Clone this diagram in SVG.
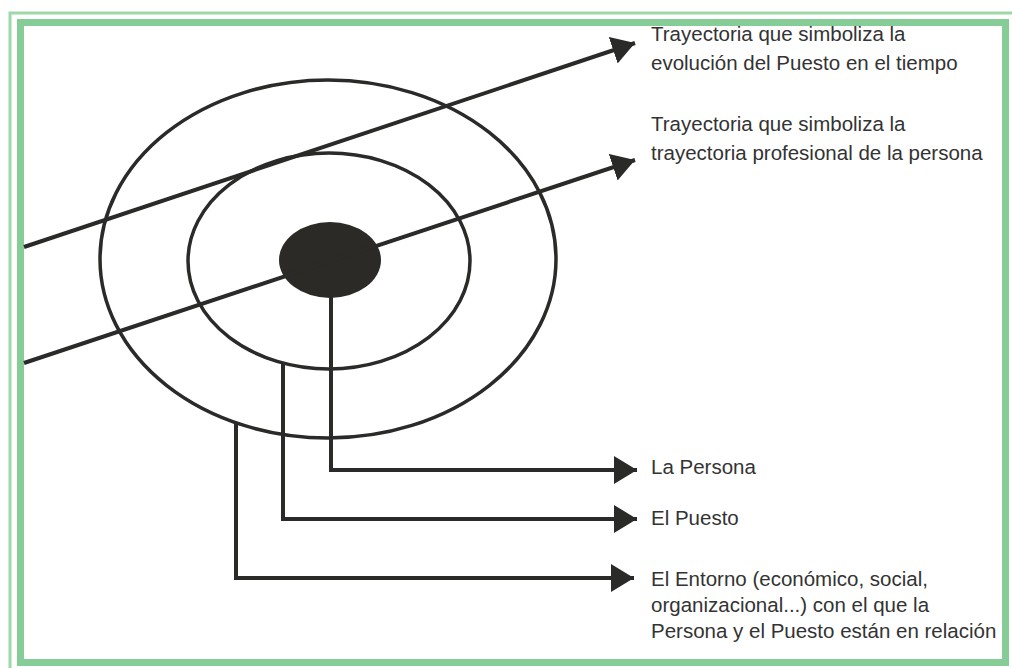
<svg xmlns="http://www.w3.org/2000/svg" width="1012" height="668" viewBox="0 0 1012 668">
<style>
.ln{stroke:#2a2a28;stroke-width:4;fill:none}
.ring{stroke:#2a2a28;stroke-width:3.5;fill:none}
.t{font-family:"Liberation Sans",Arial,sans-serif;font-size:20.5px;fill:#333}
.g1{fill:none;stroke:#9ed8aa;stroke-width:3}
.g2{fill:none;stroke:#86cc96;stroke-width:7}
</style>
<defs>
<marker id="ah" markerUnits="userSpaceOnUse" markerWidth="26" markerHeight="30" refX="23" refY="14" orient="auto">
<path d="M0,0 L23,14 L0,28 Z" fill="#2a2a28"/>
</marker>
</defs>
<rect width="1012" height="668" fill="#fff"/>
<g id="frame">
<path class="g1" d="M10,668 V13 H1012"/>
<rect class="g2" x="20.5" y="22.5" width="985" height="640"/>
</g>
<g id="entorno"><ellipse class="ring" cx="328" cy="259" rx="228" ry="179"/></g>
<g id="puesto"><ellipse class="ring" cx="329" cy="261" rx="141" ry="108"/></g>
<g id="persona"><ellipse cx="330" cy="260" rx="51" ry="38" fill="#2b2a26"/></g>
<g id="connectors">
<line class="ln" x1="24" y1="247" x2="635" y2="43" marker-end="url(#ah)"/>
<line class="ln" x1="24" y1="363" x2="635" y2="160" marker-end="url(#ah)"/>
<polyline class="ln" points="331,296 331,470 637,470" marker-end="url(#ah)"/>
<polyline class="ln" points="283,363 283,519 637,519" marker-end="url(#ah)"/>
<polyline class="ln" points="236,423 236,578 634,578" marker-end="url(#ah)"/>
</g>
<g id="labels">
<text class="t" x="651" y="41">Trayectoria que simboliza la</text>
<text class="t" x="651" y="70">evolución del Puesto en el tiempo</text>
<text class="t" x="651" y="131">Trayectoria que simboliza la</text>
<text class="t" x="651" y="160">trayectoria profesional de la persona</text>
<text class="t" x="651" y="474">La Persona</text>
<text class="t" x="651" y="525">El Puesto</text>
<text class="t" x="651" y="586">El Entorno (económico, social,</text>
<text class="t" x="651" y="612">organizacional...) con el que la</text>
<text class="t" x="651" y="638">Persona y el Puesto están en relación</text>
</g>
</svg>
